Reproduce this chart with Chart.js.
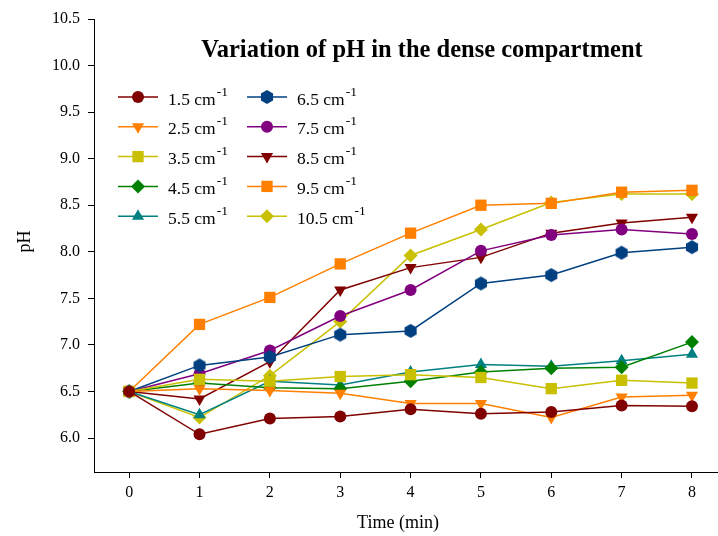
<!DOCTYPE html>
<html>
<head>
<meta charset="utf-8">
<script src="https://cdn.jsdelivr.net/npm/chart.js@4/dist/chart.umd.min.js"></script>
<style>
  html, body { margin: 0; padding: 0; background: #fff; }
  #wrap { width: 718px; height: 536px; }
</style>
</head>
<body>
<div id="wrap"><canvas id="myChart" width="718" height="536"></canvas></div>
<script>
const times = [0, 1, 2, 3, 4, 5, 6, 7, 8];
const xTicks = [0, 1, 2, 3, 4, 5, 6, 7, 8];
const yTicks = [6.0, 6.5, 7.0, 7.5, 8.0, 8.5, 9.0, 9.5, 10.0, 10.5];

const seriesNames = ["1.5", "2.5", "3.5", "4.5", "5.5", "6.5", "7.5", "8.5", "9.5", "10.5"];
const ph15 = [6.5, 6.04, 6.21, 6.23, 6.31, 6.26, 6.28, 6.35, 6.34];
const ph25 = [6.5, 6.53, 6.51, 6.48, 6.37, 6.37, 6.22, 6.44, 6.46];
const ph35 = [6.5, 6.63, 6.61, 6.66, 6.68, 6.65, 6.53, 6.62, 6.59];
const ph45 = [6.5, 6.59, 6.54, 6.53, 6.61, 6.71, 6.75, 6.76, 7.03];
const ph55 = [6.5, 6.25, 6.61, 6.57, 6.71, 6.79, 6.77, 6.83, 6.90];
const ph65 = [6.5, 6.78, 6.87, 7.11, 7.15, 7.66, 7.75, 7.99, 8.05];
const ph75 = [6.5, 6.69, 6.94, 7.31, 7.59, 8.01, 8.18, 8.24, 8.19];
const ph85 = [6.5, 6.42, 6.82, 7.59, 7.83, 7.94, 8.20, 8.31, 8.37];
const ph95 = [6.5, 7.22, 7.51, 7.87, 8.20, 8.50, 8.52, 8.64, 8.66];
const ph105 = [6.5, 6.22, 6.67, 7.25, 7.96, 8.24, 8.53, 8.62, 8.62];

const SERIF = "'Liberation Serif', 'DejaVu Serif', serif";

// hexagon marker (no built-in style for it)
function hexagon(color, r) {
  const c = document.createElement("canvas");
  c.width = r * 2 + 2;
  c.height = r * 2 + 2;
  const g = c.getContext("2d");
  g.fillStyle = color;
  g.beginPath();
  for (let i = 0; i < 6; i++) {
    const a = Math.PI / 6 + i * Math.PI / 3;
    const px = r + 1 + r * Math.cos(a);
    const py = r + 1 + r * Math.sin(a);
    if (i === 0) g.moveTo(px, py); else g.lineTo(px, py);
  }
  g.closePath();
  g.fill();
  return c;
}

const styles = [
  { color: "#800000", point: "circle", radius: 6, rotation: 0 },
  { color: "#ff8000", point: "triangle", radius: 7, rotation: 180 },
  { color: "#c8c000", point: "rect", radius: 8, rotation: 0 },
  { color: "#008000", point: "rectRot", radius: 7, rotation: 0 },
  { color: "#008080", point: "triangle", radius: 7, rotation: 0 },
  { color: "#004080", point: hexagon("#004080", 7), radius: 7, rotation: 0 },
  { color: "#800080", point: "circle", radius: 6, rotation: 0 },
  { color: "#800000", point: "triangle", radius: 7, rotation: 180 },
  { color: "#ff8000", point: "rect", radius: 8, rotation: 0 },
  { color: "#c8c000", point: "rectRot", radius: 7, rotation: 0 },
];

const allValues = [ph15, ph25, ph35, ph45, ph55, ph65, ph75, ph85, ph95, ph105];

const datasets = allValues.map((vals, i) => ({
  label: seriesNames[i] + " cm-1",
  data: times.map((t, k) => ({ x: t, y: vals[k] })),
  borderColor: styles[i].color,
  backgroundColor: styles[i].color,
  borderWidth: 1.5,
  pointStyle: styles[i].point,
  pointRadius: styles[i].radius,
  pointRotation: styles[i].rotation,
  pointBorderWidth: 0,
  pointHoverRadius: styles[i].radius,
  tension: 0,
  clip: false,
}));

// titles and two-column legend drawn on the canvas
const decorations = {
  id: "decorations",
  afterDatasetsDraw(chart) {
    const ctx = chart.ctx;
    const area = chart.chartArea;
    ctx.save();
    ctx.fillStyle = "#000";
    ctx.textBaseline = "middle";

    ctx.font = "bold 24.5px " + SERIF;
    ctx.textAlign = "center";
    ctx.fillText("Variation of pH in the dense compartment", 422, 51);

    ctx.font = "18px " + SERIF;
    ctx.fillText("Time (min)", 398, 523);
    ctx.save();
    ctx.translate(25, (area.top + area.bottom) / 2 - 4);
    ctx.rotate(-Math.PI / 2);
    ctx.fillText("pH", 0, 0);
    ctx.restore();

    const colX = [118, 247];
    const rowY0 = 97;
    const rowGap = 29.8;
    for (let i = 0; i < seriesNames.length; i++) {
      const col = i < 5 ? 0 : 1;
      const row = i % 5;
      const x0 = colX[col];
      const y = rowY0 + row * rowGap;
      const st = styles[i];
      ctx.strokeStyle = st.color;
      ctx.fillStyle = st.color;
      ctx.lineWidth = 1.5;
      ctx.beginPath();
      ctx.moveTo(x0, y);
      ctx.lineTo(x0 + 40, y);
      ctx.stroke();
      Chart.helpers.drawPoint(ctx, {
        pointStyle: st.point, radius: st.radius, rotation: st.rotation, borderWidth: 0
      }, x0 + 20, y);

      ctx.fillStyle = "#000";
      ctx.textAlign = "left";
      ctx.font = "17.5px " + SERIF;
      const main = seriesNames[i] + " cm";
      ctx.fillText(main, x0 + 50, y + 3);
      const w = ctx.measureText(main).width;
      ctx.font = "13.5px " + SERIF;
      ctx.fillText("-1", x0 + 50 + w + 1, y - 5);
    }
    ctx.restore();
  }
};

const ctx = document.getElementById("myChart");
new Chart(ctx, {
  type: "scatter",
  data: { datasets: datasets },
  plugins: [decorations],
  options: {
    responsive: false,
    animation: false,
    showLine: true,
    layout: { autoPadding: false, padding: { top: 19, right: 0, left: 0, bottom: 0 } },
    plugins: {
      legend: { display: false },
      tooltip: { enabled: false },
    },
    scales: {
      x: {
        type: "linear",
        min: -0.5,
        max: 8.37,
        afterBuildTicks(scale) {
          scale.ticks = xTicks.map(v => ({ value: v }));
        },
        afterFit(scale) {
          scale.height = 64;
          scale.paddingLeft = 0;
          scale.paddingRight = 0;
        },
        ticks: {
          color: "#000",
          font: { family: SERIF, size: 16 },
          padding: 5,
          maxRotation: 0,
          callback: v => String(v),
        },
        grid: { drawOnChartArea: false, drawTicks: true, tickLength: 6, color: "#000" },
        border: { display: true, color: "#000", width: 1 },
      },
      y: {
        type: "linear",
        min: 5.635,
        max: 10.5,
        afterBuildTicks(scale) {
          scale.ticks = yTicks.map(v => ({ value: v }));
        },
        afterFit(scale) {
          scale.width = 94;
          scale.paddingTop = 0;
          scale.paddingBottom = 0;
        },
        ticks: {
          color: "#000",
          font: { family: SERIF, size: 16 },
          padding: 8,
          callback: v => Number(v).toFixed(1),
        },
        grid: { drawOnChartArea: false, drawTicks: true, tickLength: 6, color: "#000" },
        border: { display: true, color: "#000", width: 1 },
      },
    },
  },
});
</script>
</body>
</html>
